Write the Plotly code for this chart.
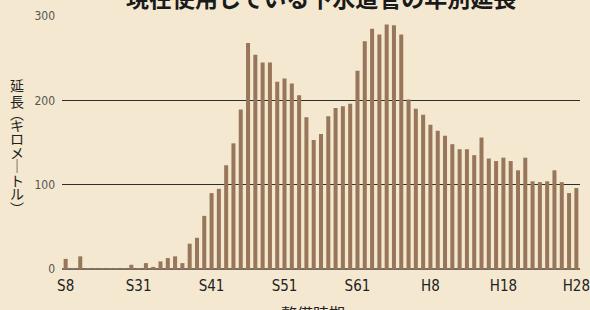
import plotly.graph_objects as go

# Categories (fiscal years of installation)
early_years = ["S8", "S10", "S12", "S15", "S18", "S21", "S24", "S26", "S28", "S30"]
showa_years = [f"S{y}" for y in range(31, 64)]
heisei_years = [f"H{y}" for y in range(1, 29)]
categories = early_years + showa_years + heisei_years

# Length (km) per year
lengths_km = [
    12, 1, 15, 1, 1, 1, 1, 1, 1, 5,
    1, 7, 2.5, 9, 13, 15, 7, 30, 37, 63,
    90, 95, 123, 149, 189, 268, 254, 245, 245, 222,
    226, 220, 206, 180, 153, 160, 181, 191, 193, 196,
    235, 270, 285, 278, 290, 289, 278, 201, 190, 183,
    171, 164, 158, 148, 142, 142, 135, 156, 131, 128,
    132, 128, 117, 132, 104, 103, 104, 117, 103, 90,
    96,
]

tick_labels = ["S8", "S31", "S41", "S51", "S61", "H8", "H18", "H28"]
y_ticks = [0, 100, 200, 300]

title_text = "現在使用している下水道管の年別延長"
y_title_chars = ["延", "長", "︵", "キ", "ロ", "メ", "｜", "ト", "ル", "︶"]
y_title_px = [85, 101, 113, 125, 138, 152, 165, 180, 193, 208]
x_title_text = "整備時期"

BG = "#f4e8d0"
BAR = "#98765a"
NARROW = "Liberation Sans Narrow, DejaVu Sans Condensed, Arial Narrow, sans-serif"
CJK = "Noto Sans CJK JP, Noto Sans CJK SC, sans-serif"

fig = go.Figure(
    go.Bar(
        x=categories,
        y=lengths_km,
        marker=dict(color=BAR, line=dict(width=0)),
        hoverinfo="x+y",
    )
)

W, H = 590, 310
ML, MR, MT, MB = 62, 10, 16, 41
plot_h = H - MT - MB

annotations = [
    dict(
        text=title_text, xref="paper", yref="paper", x=0.5, y=1.0,
        yshift=MT + 3, xanchor="center", yanchor="middle", showarrow=False,
        font=dict(family=CJK, size=23, color="#1a1a1a", weight="bold"),
    ),
    dict(
        text=x_title_text, xref="paper", yref="paper", x=0.485, y=0,
        yshift=-(300 - (H - MB)), xanchor="center", yanchor="top", showarrow=False,
        font=dict(family=CJK, size=16, color="#222222"), borderpad=0,
    ),
]
for ch, py in zip(y_title_chars, y_title_px):
    annotations.append(dict(
        text=ch, xref="paper", yref="paper", x=0, xshift=-(ML - 17),
        y=(H - MB - py) / plot_h, xanchor="center", yanchor="middle",
        showarrow=False, font=dict(family=CJK, size=14, color="#1e1e1e"),
        borderpad=0,
    ))

fig.update_layout(
    width=W, height=H, autosize=False,
    margin=dict(l=ML, r=MR, t=MT, b=MB, pad=0, autoexpand=False),
    paper_bgcolor=BG, plot_bgcolor=BG,
    bargap=0.45,
    showlegend=False,
    annotations=annotations,
    xaxis=dict(
        type="category", tickmode="array", tickvals=tick_labels, ticktext=tick_labels,
        showgrid=False, zeroline=False, showline=False, ticks="",
        tickfont=dict(family=NARROW, size=15, color="#222222"),
        ticklabelstandoff=6, fixedrange=True, automargin=False,
    ),
    yaxis=dict(
        range=[0, 300], tickmode="array", tickvals=y_ticks,
        showgrid=True, gridcolor="#2e2e2e", gridwidth=1,
        zeroline=True, zerolinecolor="#7a6e62", zerolinewidth=2,
        showline=False, ticks="",
        tickfont=dict(family=NARROW, size=12, color="#555555"),
        ticklabelstandoff=6, fixedrange=True, automargin=False,
    ),
)

fig.write_html(
    "out.html",
    config={"displayModeBar": False},
    post_script="document.body.style.margin='0';document.body.style.overflow='hidden';"
                "document.body.style.background='" + BG + "';",
)
